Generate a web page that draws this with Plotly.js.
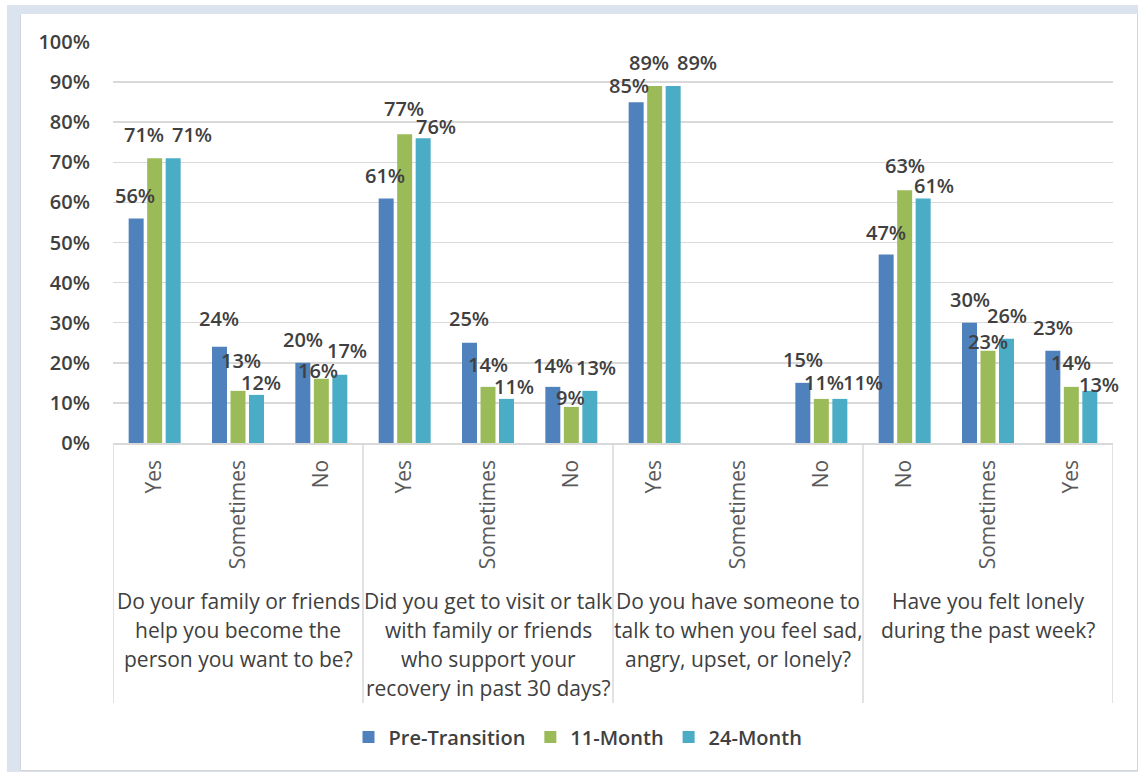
<!DOCTYPE html>
<html>
<head>
<meta charset="utf-8">
<script src="https://cdn.plot.ly/plotly-3.0.1.min.js"></script>
<style>
  html, body { margin: 0; padding: 0; background: #ffffff; width: 1138px; height: 772px; overflow: hidden; }
  #frame { position: absolute; left: 7px; top: 5px; width: 1131px; height: 767px; background: #dbe3ef; }
  #chart { position: absolute; left: 20px; top: 14px; width: 1116px; height: 756px;
           border-left: 1px solid #cfd6e0; border-right: 1px solid #d4d4d4; border-bottom: 1px solid #d4d4d4; background: #fff; }
</style>
</head>
<body>
<div id="frame"></div>
<div id="chart"></div>
<script>
// ---- data ----
const subLabels = ["Yes", "Sometimes", "No", "Yes", "Sometimes", "No", "Yes", "Sometimes", "No", "No", "Sometimes", "Yes"];
const questions = [
  "Do your family or friends<br>help you become the<br>person you want to be?",
  "Did you get to visit or talk<br>with family or friends<br>who support your<br>recovery in past 30 days?",
  "Do you have someone to<br>talk to when you feel sad,<br>angry, upset, or lonely?",
  "Have you felt lonely<br>during the past week?"
];
const seriesNames = ["Pre-Transition", "11-Month", "24-Month"];
const preTransition = [0.56, 0.24, 0.20, 0.61, 0.25, 0.14, 0.85, null, 0.15, 0.47, 0.30, 0.23];
const month11       = [0.71, 0.13, 0.16, 0.77, 0.14, 0.09, 0.89, null, 0.11, 0.63, 0.23, 0.14];
const month24       = [0.71, 0.12, 0.17, 0.76, 0.11, 0.13, 0.89, null, 0.11, 0.61, 0.26, 0.13];

// ---- style ----
const colors = ["#4f81bd", "#9bbb59", "#4bacc6"];
// label nudges (px) relative to bar top centre, per series
const labelDx = [
  [-1, -1, 0, -1, -1, 0, -7.5, 0, 0, 0, 0, 0],
  [-11, 3, -3, -1, 0, -1, -6, 0, 2.5, 0, 0, 0],
  [19, 4, 7, 13, 7, 6, 23.5, 0, 23.5, 10.5, 0, 9]
];
const labelDy = [
  [-23, -28.5, -23, -23, -24.5, -21, -16.5, 0, -23.5, -22, -23.5, -23.5],
  [-24, -30, -8, -26, -22, -9, -23.5, 0, -16.5, -25, -9.5, -24.5],
  [-24, -12, -24, -11.5, -12, -23, -23.5, 0, -16.5, -13, -23.5, -6.5]
];
const bargap = 0.334, bargroupgap = 0.19;
const FONT = "Open Sans, Noto Sans, DejaVu Sans, sans-serif";

const seriesValues = [preTransition, month11, month24];
const xIdx = subLabels.map((_, i) => i);

const traces = seriesValues.map((vals, k) => ({
  type: "bar",
  name: seriesNames[k],
  x: xIdx,
  y: vals,
  marker: { color: colors[k] },
  hoverinfo: "skip"
}));

const annotations = [];
const slot = (1 - bargap) / 3;
seriesValues.forEach((vals, k) => {
  vals.forEach((v, i) => {
    if (v === null) return;
    annotations.push({
      xref: "x", yref: "y",
      x: i + (k - 1) * slot, y: v,
      text: Math.round(v * 100) + "%",
      showarrow: false,
      xanchor: "center", yanchor: "middle",
      xshift: labelDx[k][i], yshift: -labelDy[k][i],
      font: { family: FONT, size: 20, color: "#404040", weight: 600 }
    });
  });
});

// group labels, one annotation per line
const groupCenters = questions.map((_, g) => g * 3 + 1);
questions.forEach((q, g) => {
  q.split("<br>").forEach((line, j) => {
    annotations.push({
      xref: "x", yref: "paper",
      x: groupCenters[g], y: (443 - 601 - 29 * j) / 401,
      text: line, showarrow: false,
      xanchor: "center", yanchor: "middle",
      font: { family: FONT, size: 21, color: "#404040" }
    });
  });
});

// vertical separators
const shapes = [];
for (let g = 0; g <= questions.length; g++) {
  shapes.push({
    type: "line", xref: "x", yref: "paper",
    x0: g * 3 - 0.5, x1: g * 3 - 0.5, y0: 0, y1: (443 - 703) / 401,
    line: { color: "#d9d9d9", width: 1.5 }
  });
}

const layout = {
  width: 1116, height: 756,
  margin: { l: 92, r: 24, t: 28, b: 327 },
  paper_bgcolor: "#ffffff",
  plot_bgcolor: "#ffffff",
  barmode: "group",
  bargap: bargap,
  bargroupgap: bargroupgap,
  showlegend: true,
  legend: {
    orientation: "h",
    x: (577 - 112) / 1000, xanchor: "center",
    y: (443 - 737) / 401, yanchor: "middle",
    font: { family: FONT, size: 20, color: "#404040", weight: 600 },
    itemclick: false, itemdoubleclick: false,
    traceorder: "normal"
  },
  xaxis: {
    type: "linear",
    range: [-0.5, subLabels.length - 0.5],
    tickmode: "array",
    tickvals: xIdx,
    ticktext: subLabels,
    tickangle: -90,
    ticks: "",
    ticklabelstandoff: 7,
    showgrid: false,
    zeroline: false,
    showline: true,
    linecolor: "#d9d9d9",
    linewidth: 1.5,
    tickfont: { family: FONT, size: 21, color: "#595959" },
    fixedrange: true
  },
  yaxis: {
    range: [0, 1],
    dtick: 0.1,
    tick0: 0,
    tickformat: ".0%",
    showgrid: true,
    gridcolor: "#d9d9d9",
    gridwidth: 1.5,
    zeroline: false,
    showline: false,
    ticks: "",
    ticklabelstandoff: 22,
    tickfont: { family: FONT, size: 20, color: "#404040", weight: 600 },
    fixedrange: true
  },
  annotations: annotations,
  shapes: shapes
};

Plotly.newPlot("chart", traces, layout, { displayModeBar: false, staticPlot: true });
</script>
</body>
</html>
